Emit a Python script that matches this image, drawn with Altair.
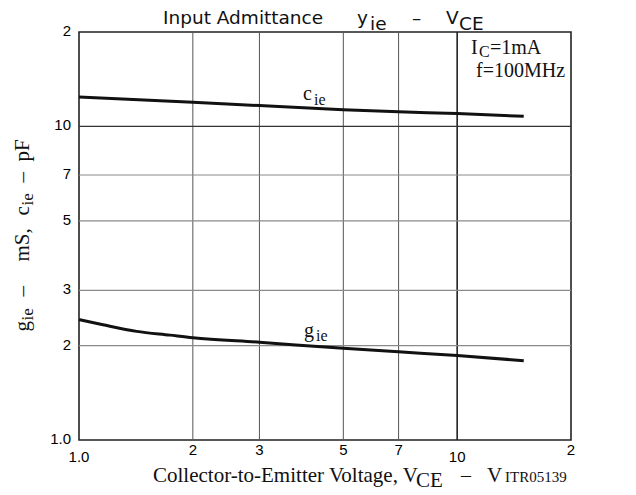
import altair as alt
import pandas as pd

# ---- data ----
vce_c = [1, 2, 3, 5, 7, 10, 15]
cie = [12.42, 11.94, 11.65, 11.31, 11.13, 10.99, 10.77]
vce_g = [1, 1.157, 1.42, 1.74, 2, 3, 5, 7, 10, 15]
gie = [2.42, 2.33, 2.22, 2.16, 2.12, 2.05, 1.96, 1.91, 1.86, 1.79]

tick_vals = [1, 2, 3, 5, 7, 10, 20]
tick_text = ["1.0", "2", "3", "5", "7", "10", "2"]
x_label_low = [True, False, False, False, False, True, False]
grid_minor = [2, 3, 5, 7]
grid_major = [10]

W, H = 492, 408
SERIF = "Liberation Serif"
SANS = "Liberation Sans"
TSANS = "DejaVu Sans"

xs = alt.Scale(type="log", domain=[1, 20], nice=False)
ys = alt.Scale(type="log", domain=[1, 20], nice=False)

curves = pd.concat([
    pd.DataFrame({"v": vce_c, "y": cie, "s": "cie"}),
    pd.DataFrame({"v": vce_g, "y": gie, "s": "gie"}),
])

lines = alt.Chart(curves).mark_line(color="#111", strokeWidth=3, interpolate="monotone").encode(
    x=alt.X("v:Q", scale=xs, axis=None),
    y=alt.Y("y:Q", scale=ys, axis=None),
    detail="s:N",
)

def vgrid(vals, color, width):
    return alt.Chart(pd.DataFrame({"v": vals})).mark_rule(color=color, strokeWidth=width).encode(
        x=alt.X("v:Q", scale=xs, axis=None), y=alt.value(0), y2=alt.value(H))

def hgrid(vals, color, width):
    return alt.Chart(pd.DataFrame({"v": vals})).mark_rule(color=color, strokeWidth=width).encode(
        y=alt.Y("v:Q", scale=ys, axis=None), x=alt.value(0), x2=alt.value(W))

ticks = pd.DataFrame({"v": tick_vals, "t": tick_text, "low": x_label_low})

xlab_hi = alt.Chart(ticks[~ticks["low"]]).mark_text(font=SANS, fontSize=15, baseline="middle").encode(
    x=alt.X("v:Q", scale=xs, axis=None), y=alt.value(H + 10), text="t:N")
xlab_lo = alt.Chart(ticks[ticks["low"]]).mark_text(font=SANS, fontSize=15, baseline="middle").encode(
    x=alt.X("v:Q", scale=xs, axis=None), y=alt.value(H + 17), text="t:N")
ylab = alt.Chart(ticks).mark_text(font=SANS, fontSize=15, baseline="middle", align="right", dy=-1).encode(
    y=alt.Y("v:Q", scale=ys, axis=None), x=alt.value(-8), text="t:N")

def txt(s, x, y, size, font=SERIF, angle=0, align="left", baseline="alphabetic"):
    return alt.Chart(pd.DataFrame({"t": [s]})).mark_text(
        font=font, fontSize=size, align=align, baseline=baseline, angle=angle, color="#111"
    ).encode(x=alt.value(x), y=alt.value(y), text="t:N")

annos = [
    # title
    txt("Input Admittance", 84, -8, 18.5, TSANS),
    txt("y", 278, -8, 18.5, TSANS),
    txt("ie", 291, -2, 18.5, TSANS),
    txt("\u2013", 333, -8, 18.5, TSANS),
    txt("V", 367, -8, 18.5, TSANS),
    txt("CE", 380, -2, 18.5, TSANS),
    # curve labels
    txt("c", 224, 67.5, 20), txt("ie", 235, 72.5, 16),
    txt("g", 225, 304.5, 20), txt("ie", 237, 309, 16),
    # conditions
    txt("I", 392, 22, 20), txt("C", 400, 25, 16), txt("=1mA", 411, 22, 20),
    txt("f=100MHz", 397, 44.5, 20),
    # x title
    txt("Collector-to-Emitter Voltage, V", 74, 449.5, 21),
    txt("CE", 337, 454.5, 21),
    txt("\u2013", 382, 449.5, 20),
    txt("V", 408, 449.5, 21),
    txt("ITR05139", 426, 449.5, 15),
    # y title (rotated)
    txt("g", -50, 299.5, 21, angle=270),
    txt("ie", -46, 288.5, 17, angle=270),
    txt("\u2013", -50, 264.5, 21, angle=270),
    txt("mS,", -50, 229.5, 21, angle=270),
    txt("c", -50, 183.5, 21, angle=270),
    txt("ie", -46, 173.5, 17, angle=270),
    txt("\u2013", -50, 150.5, 21, angle=270),
    txt("pF", -50, 129.5, 21, angle=270),
]

chart = alt.layer(
    vgrid(grid_minor, "#555", 1), vgrid(grid_major, "#222", 1.6),
    hgrid(grid_minor, "#8a8a8a", 1.2), hgrid(grid_major, "#333", 1.4),
    lines, xlab_hi, xlab_lo, ylab, *annos,
).properties(
    width=W, height=H,
    autosize=alt.AutoSizeParams(type="none"),
    padding={"left": 71, "top": 24, "right": 50, "bottom": 55},
).configure_view(stroke="#222", strokeWidth=1.6)

chart.save("out.html", embed_options={"renderer": "svg", "actions": False})
